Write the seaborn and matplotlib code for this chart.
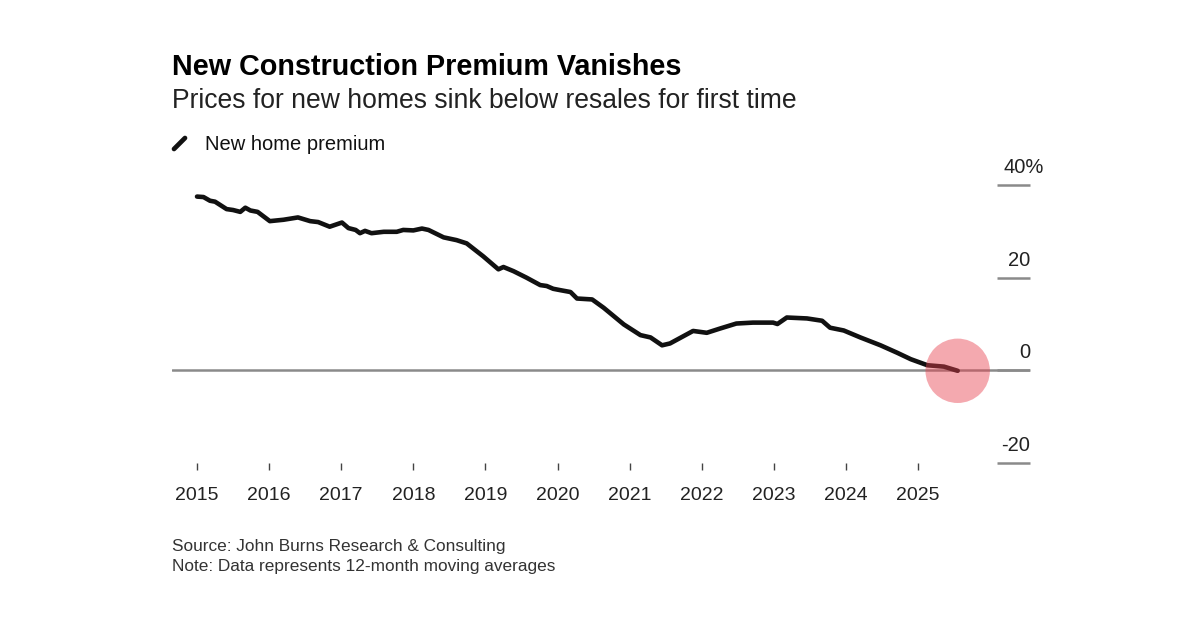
import matplotlib
matplotlib.use("Agg")
import matplotlib.pyplot as plt
from matplotlib.lines import Line2D
import seaborn as sns
import pandas as pd

# New home premium over resales, 12-month moving average (%)
years = [2015.00, 2015.09, 2015.18, 2015.25, 2015.41, 2015.50, 2015.60, 2015.67,
         2015.74, 2015.84, 2016.01, 2016.20, 2016.40, 2016.57, 2016.68, 2016.84,
         2017.01, 2017.10, 2017.20, 2017.26, 2017.33, 2017.42, 2017.59, 2017.77,
         2017.86, 2018.00, 2018.12, 2018.21, 2018.42, 2018.60, 2018.74, 2018.97,
         2019.18, 2019.25, 2019.39, 2019.57, 2019.76, 2019.85, 2019.94, 2020.04,
         2020.18, 2020.27, 2020.48, 2020.64, 2020.92, 2021.15, 2021.29, 2021.45,
         2021.56, 2021.88, 2022.07, 2022.25, 2022.48, 2022.71, 2022.99, 2023.05,
         2023.18, 2023.46, 2023.67, 2023.78, 2023.97, 2024.20, 2024.48, 2024.71,
         2024.90, 2025.13, 2025.36, 2025.55]
premium = [37.5, 37.4, 36.6, 36.4, 34.8, 34.6, 34.2, 35.1,
           34.5, 34.2, 32.2, 32.5, 33.0, 32.2, 32.0, 31.0,
           31.9, 30.7, 30.3, 29.6, 30.1, 29.6, 29.9, 29.9,
           30.3, 30.2, 30.6, 30.3, 28.7, 28.1, 27.4, 24.6,
           21.8, 22.3, 21.4, 20.0, 18.4, 18.2, 17.6, 17.3,
           16.9, 15.5, 15.3, 13.5, 9.9, 7.6, 7.1, 5.4,
           5.8, 8.5, 8.1, 9.0, 10.1, 10.3, 10.3, 10.0,
           11.4, 11.2, 10.7, 9.2, 8.6, 7.1, 5.4, 3.8,
           2.4, 1.1, 0.8, -0.1]

year_ticks = list(range(2015, 2026))
y_ticks = [40, 20, 0, -20]
y_labels = ["40%", "20", "0", "-20"]

df = pd.DataFrame({"year": years, "premium": premium})

sns.set_theme(style="white")
plt.rcParams["font.family"] = ["Liberation Sans", "DejaVu Sans"]

fig = plt.figure(figsize=(12, 6.28), dpi=100)
ax = fig.add_axes([172 / 1200, 1 - 463 / 628, 858 / 1200, 278 / 628])

ax.axhline(0, color="#8a8a8a", lw=1.8, zorder=1)
sns.lineplot(data=df, x="year", y="premium", ax=ax, color="#111111", lw=3.3,
             zorder=3, solid_joinstyle="round", solid_capstyle="round")

# highlight where the premium crosses zero
sns.scatterplot(x=[years[-1]], y=[premium[-1]], ax=ax, s=2150, color="#e8414f",
                alpha=0.45, edgecolor="none", zorder=4, legend=False)

ax.set_xlim(2014.653, 2026.553)
ax.set_ylim(-20, 40)
for s in ax.spines.values():
    s.set_visible(False)

ax.set_xticks(year_ticks)
ax.set_xticklabels([str(y) for y in year_ticks], fontsize=14, color="#222222")
ax.tick_params(axis="x", bottom=True, length=5, width=1, color="#444444",
               direction="out", pad=12.5)
ax.set_yticks([])
ax.set_xlabel("")
ax.set_ylabel("")

# right side value labels with short rules; the % hangs past the rule
trans = ax.get_yaxis_transform()
for v, lab in zip(y_ticks, y_labels):
    ax.plot([0.9615, 1.0], [v, v], transform=trans, color="#8a8a8a", lw=1.8,
            clip_on=False, solid_capstyle="butt")
    if lab.endswith("%"):
        ax.text(0.9695, v + 1.7, lab, transform=trans, ha="left", va="bottom",
                fontsize=14.5, color="#222222")
    else:
        ax.text(1.0, v + 1.7, lab, transform=trans, ha="right", va="bottom",
                fontsize=14.5, color="#222222")

fig.text(172 / 1200, 1 - 75 / 628, "New Construction Premium Vanishes",
         fontsize=20.7, fontweight="bold", color="#000000", va="baseline")
fig.text(172 / 1200, 1 - 108 / 628,
         "Prices for new homes sink below resales for first time",
         fontsize=19.1, color="#222222", va="baseline")
fig.add_artist(Line2D([174 / 1200, 185 / 1200], [1 - 149 / 628, 1 - 138 / 628],
                      color="#111111", lw=3.4, solid_capstyle="round"))
fig.text(205 / 1200, 1 - 150 / 628, "New home premium", fontsize=14.5,
         color="#111111", va="baseline")

fig.text(172 / 1200, 1 - 551 / 628, "Source: John Burns Research & Consulting",
         fontsize=12.4, color="#333333", va="baseline")
fig.text(172 / 1200, 1 - 571 / 628, "Note: Data represents 12-month moving averages",
         fontsize=12.4, color="#333333", va="baseline")

fig.savefig("out.png", dpi=100, facecolor="white")
